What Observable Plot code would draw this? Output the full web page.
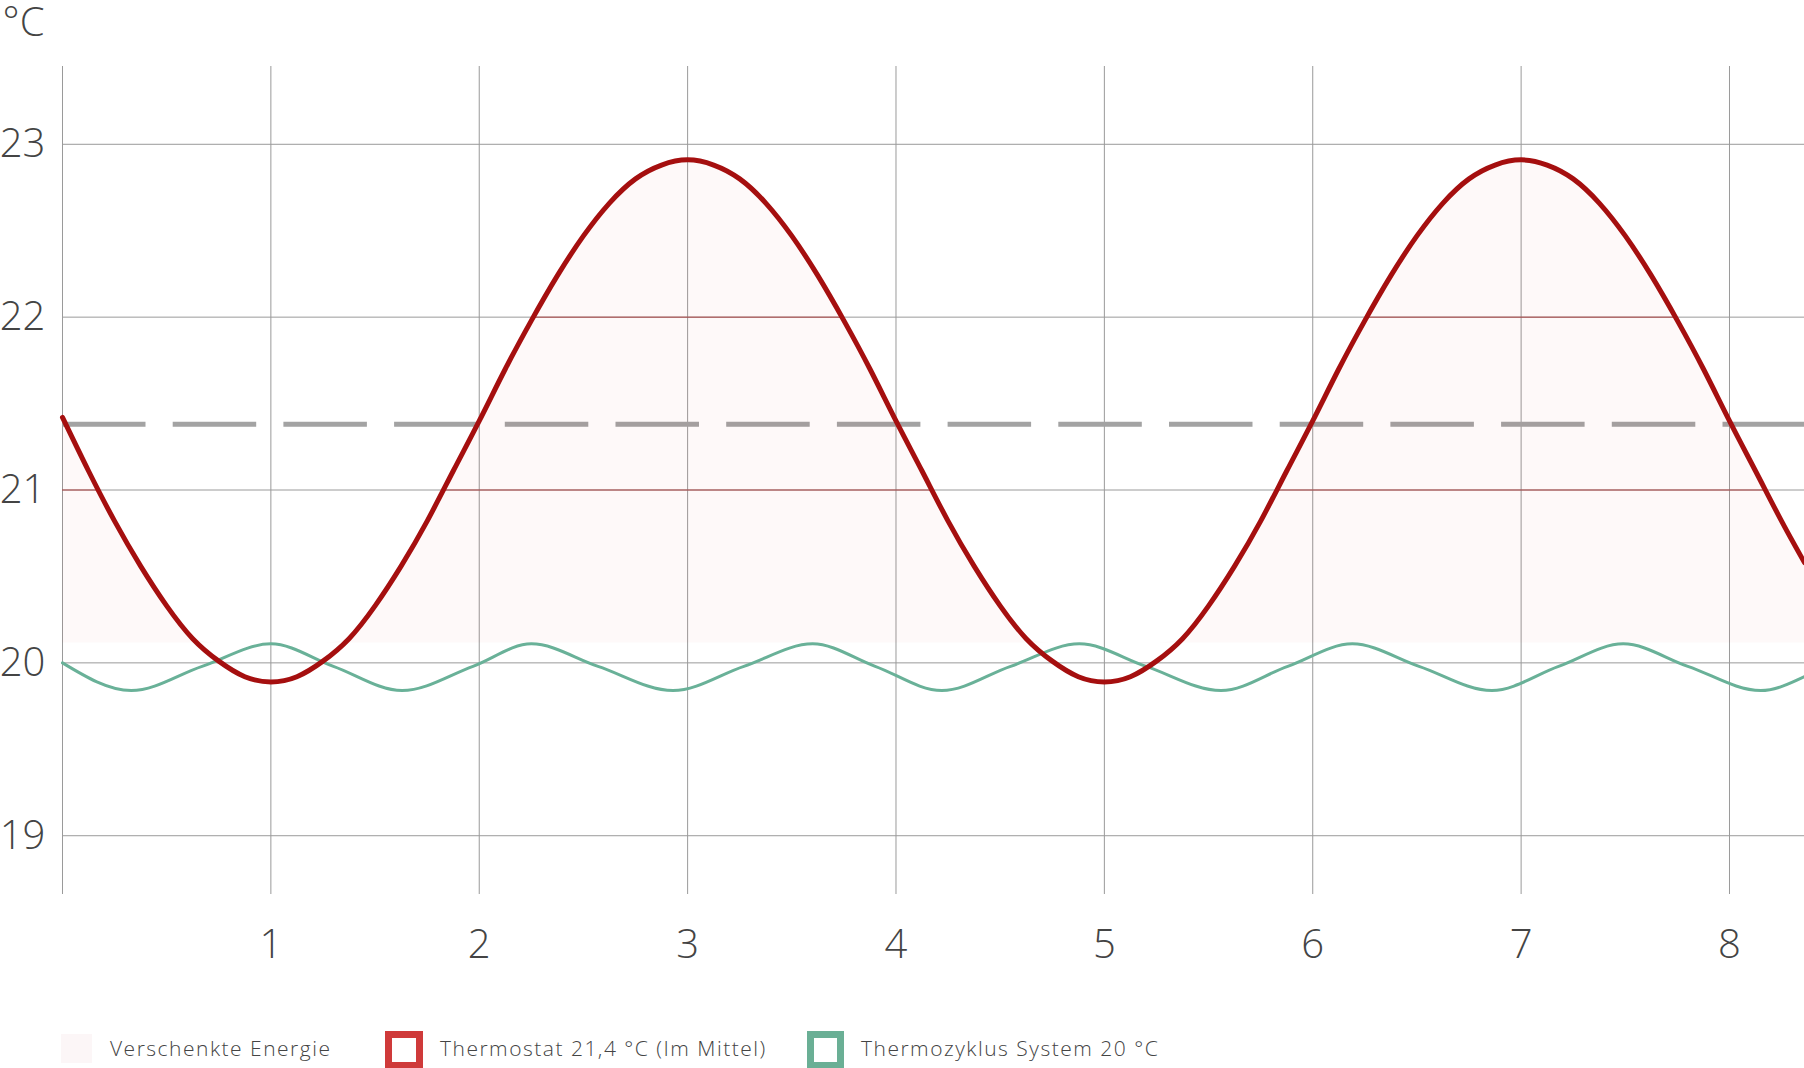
<!DOCTYPE html>
<html>
<head>
<meta charset="utf-8">
<script src="https://cdn.jsdelivr.net/npm/d3@7"></script>
<script src="https://cdn.jsdelivr.net/npm/@observablehq/plot@0.6"></script>
<style>
  html, body { margin: 0; padding: 0; background: #fff; }
  body { width: 1804px; height: 1068px; position: relative; overflow: hidden; font-family: "Open Sans", sans-serif; font-weight: 300; color: #444; }
  #chart svg { display: block; overflow: visible; }
  .leg-sw { position: absolute; box-sizing: border-box; }
  .leg-tx { position: absolute; font-size: 21px; line-height: 1; white-space: nowrap; color: #444; font-weight: 300; letter-spacing: 1.5px; }
</style>
</head>
<body>
<div id="chart"></div>
<div class="leg-sw" style="left:61px; top:1034px; width:31px; height:29px; background:#fcf6f7;"></div>
<div class="leg-tx" style="left:110px; top:1038px;">Verschenkte Energie</div>
<div class="leg-sw" style="left:385px; top:1031px; width:38px; height:38px; border:7px solid #cf3a3a; background:#fff;"></div>
<div class="leg-tx" style="left:440px; top:1038px;">Thermostat 21,4 °C (Im Mittel)</div>
<div class="leg-sw" style="left:807px; top:1031px; width:37px; height:38px; border:7px solid #6aaf95; background:#fff;"></div>
<div class="leg-tx" style="left:861px; top:1038px;">Thermozyklus System 20 °C</div>
<script>
// ---- data ----
const xGridTicks = [0, 1, 2, 3, 4, 5, 6, 7, 8];
const xLabelTicks = [1, 2, 3, 4, 5, 6, 7, 8];
const yTicks = [19, 20, 21, 22, 23];
const unitLabel = "°C";

// Thermostat 21,4 °C (Im Mittel), read every 1/8 unit
const thermostatX = [
  0, 0.125, 0.25, 0.375, 0.5, 0.625, 0.75, 0.875,
  1, 1.125, 1.25, 1.375, 1.5, 1.625, 1.75, 1.875,
  2, 2.125, 2.25, 2.375, 2.5, 2.625, 2.75, 2.875,
  3, 3.125, 3.25, 3.375, 3.5, 3.625, 3.75, 3.875,
  4, 4.125, 4.25, 4.375, 4.5, 4.625, 4.75, 4.875,
  5, 5.125, 5.25, 5.375, 5.5, 5.625, 5.75, 5.875,
  6, 6.125, 6.25, 6.375, 6.5, 6.625, 6.75, 6.875,
  7, 7.125, 7.25, 7.375, 7.5, 7.625, 7.75, 7.875,
  8, 8.125, 8.25, 8.36];
const thermostatY = [
  21.42, 21.11, 20.82, 20.56, 20.33, 20.14, 20.01, 19.92,
  19.89, 19.92, 20.01, 20.14, 20.33, 20.56, 20.82, 21.11,
  21.40, 21.70, 21.98, 22.24, 22.47, 22.66, 22.80, 22.88,
  22.91, 22.88, 22.80, 22.66, 22.47, 22.24, 21.98, 21.70,
  21.40, 21.11, 20.82, 20.56, 20.33, 20.14, 20.01, 19.92,
  19.89, 19.92, 20.01, 20.14, 20.33, 20.56, 20.82, 21.11,
  21.40, 21.70, 21.98, 22.24, 22.47, 22.66, 22.80, 22.88,
  22.91, 22.88, 22.80, 22.66, 22.47, 22.24, 21.98, 21.70,
  21.40, 21.11, 20.82, 20.58];

// Thermozyklus System 20 °C
const zyklusX = [0, 0.33, 0.67, 1.0, 1.3, 1.63, 1.97, 2.25, 2.57, 2.93, 3.27, 3.6, 3.9,
  4.22, 4.55, 4.88, 5.2, 5.56, 5.88, 6.19, 6.51, 6.86, 7.18, 7.49, 7.8, 8.15, 8.36];
const zyklusY = [20.00, 19.84, 19.98, 20.11, 19.98, 19.84, 19.98, 20.11, 19.98, 19.84, 19.98, 20.11, 19.98,
  19.84, 19.98, 20.11, 19.98, 19.84, 19.98, 20.11, 19.98, 19.84, 19.98, 20.11, 19.98, 19.84, 19.92];

const meanLevel = 21.38;     // dashed mean line
const wasteBase = 20.115;    // lower edge of "Verschenkte Energie"

// ---- tables built from the arrays ----
const thermostat = thermostatX.map((x, i) => ({x, y: thermostatY[i]}));
const zyklus = zyklusX.map((x, i) => ({x, y: zyklusY[i]}));
const waste = thermostat.map(d => ({x: d.x, y1: wasteBase, y2: Math.max(d.y, wasteBase)}));

const FONT = "'Open Sans', sans-serif";
const fmt = d => String(d);

const chart = Plot.plot({
  width: 1804,
  height: 1000,
  marginLeft: 62,
  marginRight: 0,
  marginTop: 66,
  marginBottom: 106,
  style: {fontFamily: FONT, fontWeight: 300, color: "#444", background: "#fff", overflow: "visible"},
  x: {domain: [0, 8.36]},
  y: {domain: [18.66, 23.45]},
  marks: [
    Plot.gridX(xGridTicks, {stroke: "#9a9a9a", strokeOpacity: 1, strokeWidth: 1}),
    Plot.gridY(yTicks, {stroke: "#9a9a9a", strokeOpacity: 1, strokeWidth: 1}),
    Plot.gridY(yTicks, {stroke: "#a83a3a", strokeOpacity: 0.9, strokeWidth: 1}),
    Plot.ruleY([meanLevel], {stroke: "#a3a3a3", strokeWidth: 5, strokeDasharray: "83.5,27.2"}),
    Plot.areaY(waste, {x: "x", y1: "y1", y2: "y2", fill: "#c81414", fillOpacity: 0.022, curve: "monotone-x"}),
    Plot.line(zyklus, {x: "x", y: "y", stroke: "#69b198", strokeWidth: 3, curve: "monotone-x"}),
    Plot.line(thermostat, {x: "x", y: "y", stroke: "#a50f0f", strokeWidth: 5, curve: "natural"}),
    Plot.axisY(yTicks, {tickSize: 0, tickPadding: 40, textAnchor: "middle", fontSize: 40, fill: "#444", label: null, tickFormat: fmt}),
    Plot.axisX(xLabelTicks, {tickSize: 0, tickPadding: 35, fontSize: 40, fill: "#444", label: null, tickFormat: fmt}),
    Plot.text([unitLabel], {frameAnchor: "top-left", dx: -60, dy: -59, fontSize: 40, fill: "#444", lineAnchor: "top", textAnchor: "start"})
  ]
});
document.getElementById("chart").appendChild(chart);

// tint the horizontal grid lines only inside the "wasted energy" area
(function () {
  const svg = chart.tagName.toLowerCase() === "svg" ? chart : chart.querySelector("svg");
  const groups = Array.from(svg.children).filter(el => el.tagName.toLowerCase() === "g");
  const tintGrid = groups[2];
  const areaGroup = groups[4];
  const areaPath = areaGroup && areaGroup.querySelector("path");
  if (!areaPath || !tintGrid) return;
  const ns = "http://www.w3.org/2000/svg";
  const defs = document.createElementNS(ns, "defs");
  const cp = document.createElementNS(ns, "clipPath");
  cp.setAttribute("id", "waste-clip");
  cp.setAttribute("clipPathUnits", "userSpaceOnUse");
  const p = document.createElementNS(ns, "path");
  p.setAttribute("d", areaPath.getAttribute("d"));
  const t = areaGroup.getAttribute("transform");
  if (t) p.setAttribute("transform", t);
  cp.appendChild(p);
  defs.appendChild(cp);
  svg.insertBefore(defs, svg.firstChild);
  const wrap = document.createElementNS(ns, "g");
  wrap.setAttribute("clip-path", "url(#waste-clip)");
  tintGrid.parentNode.insertBefore(wrap, tintGrid);
  wrap.appendChild(tintGrid);
})();
</script>
</body>
</html>
